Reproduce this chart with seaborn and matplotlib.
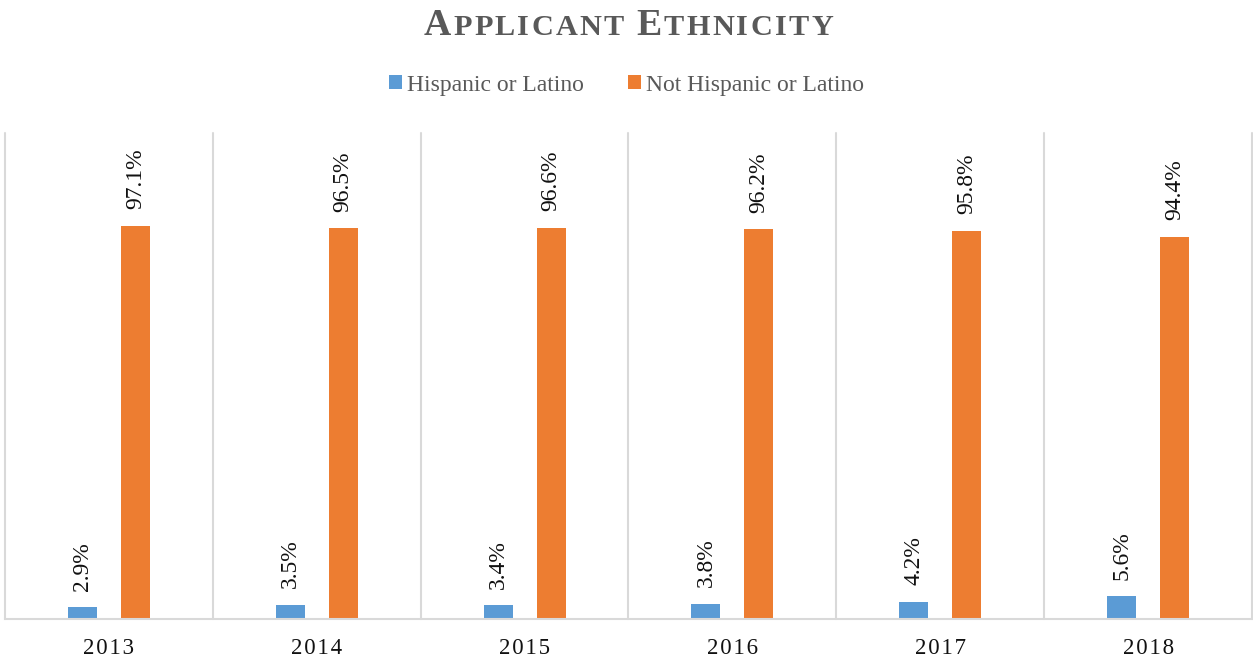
import matplotlib
matplotlib.use('Agg')
import matplotlib.pyplot as plt
import numpy as np
import pandas as pd
import seaborn as sns

years = ['2013', '2014', '2015', '2016', '2017', '2018']
hispanic = [2.9, 3.5, 3.4, 3.8, 4.2, 5.6]
not_hispanic = [97.1, 96.5, 96.6, 96.2, 95.8, 94.4]
groups = ['Hispanic or Latino', 'Not Hispanic or Latino']
colors = ['#5B9BD5', '#ED7D31']

df = pd.DataFrame({
    'year': years * 2,
    'pct': hispanic + not_hispanic,
    'group': [groups[0]] * len(years) + [groups[1]] * len(years),
})

sns.set_style('white')
plt.rcParams['font.family'] = ['Liberation Serif', 'DejaVu Serif']

W, H = 1253, 664
fig = plt.figure(figsize=(W / 100, H / 100), dpi=100)
ax = fig.add_axes([5 / W, 45 / H, 1247 / W, 486 / H])

sns.barplot(data=df, x='year', y='pct', hue='group', palette=colors,
            width=0.51, gap=0.45, saturation=1, linewidth=0, ax=ax)

handles, labels = ax.get_legend_handles_labels()
ax.get_legend().remove()

# value labels, rotated like the original
for c in ax.containers:
    ax.bar_label(c, labels=[f'{v:.1f}%' for v in c.datavalues], rotation=90,
                 padding=12, fontsize=17, color='#111111')

ax.set_ylim(0, 120)
ax.set_xlim(-0.5, 5.5)
ax.set_yticks([])
ax.set_xlabel('')
ax.set_ylabel('')
ax.set_xticks(range(len(years)))
ax.set_xticklabels(['\u200a'.join(y) for y in years], fontsize=16.5, color='#111111')
ax.tick_params(axis='x', length=0, pad=14)
for s in ['left', 'right', 'top']:
    ax.spines[s].set_visible(False)
ax.spines['bottom'].set_color('#D9D9D9')
ax.spines['bottom'].set_linewidth(1.5)
for x in np.arange(-0.5, len(years), 1.0):
    ax.axvline(x, color='#D9D9D9', lw=1.5, zorder=0, clip_on=False)

fig.legend(handles, labels, loc='center', bbox_to_anchor=(0.5, 1 - 85 / H), ncol=2,
           frameon=False, fontsize=17, labelcolor='#595959', handlelength=0.55,
           handleheight=0.55, handletextpad=0.2, columnspacing=1.9)

# small-caps title built letter by letter
def smallcaps_title(text, base_px, big=27.2, small=21.8, track=2.3):
    renderer = fig.canvas.get_renderer()
    parts = []
    for i, word in enumerate(text.split()):
        if i:
            parts.append((' ', small))
        parts.append((word[0], big))
        for ch in word[1:]:
            parts.append((ch, small))
    arts, widths = [], []
    for ch, size in parts:
        t = fig.text(0, 1 - base_px / H, ch, fontsize=size, fontweight='bold',
                     color='#595959', ha='left', va='baseline')
        arts.append(t)
        widths.append(t.get_window_extent(renderer).width)
    total = sum(widths) + track * (len(parts) - 1)
    x = (W - total) / 2 + 2
    for t, w in zip(arts, widths):
        t.set_x(x / W)
        x += w + track

smallcaps_title('APPLICANT ETHNICITY', 35)

fig.savefig('out.png', dpi=100)
